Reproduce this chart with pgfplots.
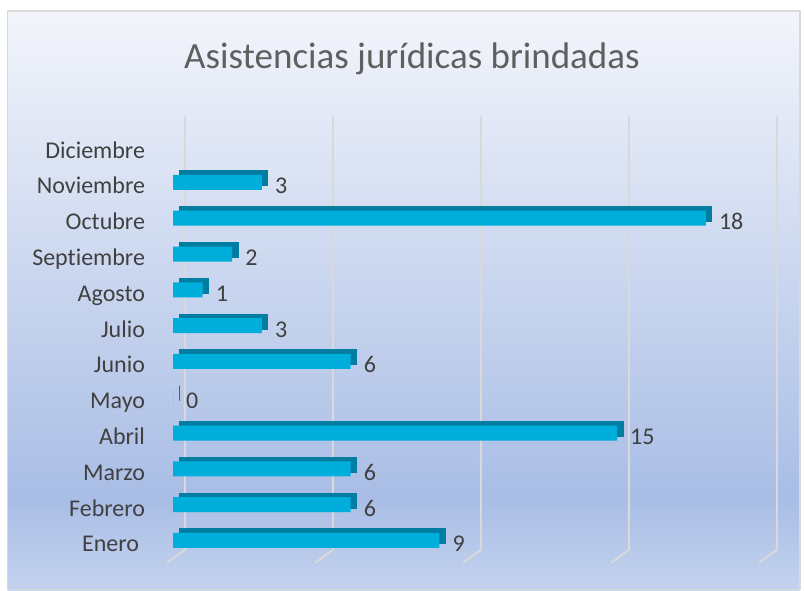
\documentclass[border=0pt]{standalone}
\usepackage{pgfplots}
\pgfplotsset{compat=1.18}
\usepackage{fontspec}
\setmainfont{Carlito}[Ligatures=NoCommon]
\definecolor{barfront}{RGB}{0,174,219}
\definecolor{bardark}{RGB}{0,125,160}
\definecolor{gridc}{RGB}{217,217,217}
\definecolor{txt}{RGB}{64,64,64}
\definecolor{ttl}{RGB}{95,95,95}
\definecolor{bgtop}{RGB}{243,245,251}
\definecolor{bgmid}{RGB}{169,189,229}
\definecolor{bgbot}{RGB}{195,210,238}
\definecolor{framec}{RGB}{217,217,217}
\pgfdeclareverticalshading{bgshade}{100bp}{color(0bp)=(bgbot); color(25bp)=(bgbot); color(33bp)=(bgmid); color(75bp)=(bgtop); color(100bp)=(bgtop)}
\begin{document}
\begin{tikzpicture}
\fill[white] (0,0) rectangle (804pt,590pt);
\shade[shading=bgshade] (7.5pt,0pt) rectangle (800pt,579pt);
\draw[framec, line width=1.5pt] (7.5pt,0.75pt) rectangle (800pt,579pt);
\node[font=\fontsize{37}{44}\selectfont, text=ttl, anchor=base, inner sep=0pt] at (412pt,521pt) {Asistencias jurídicas brindadas};
\begin{axis}[
  at={(161.2pt,19pt)}, anchor=south west,
  scale only axis, width=621.6pt, height=454.7pt,
  xmin=-0.4, xmax=20.6, ymin=-0.7, ymax=12,
  axis line style={draw=none},
  xtick=\empty,
  ytick={0,1,2,3,4,5,6,7,8,9,10,11},
  yticklabels={Enero\kern6pt,Febrero,Marzo,Abril,Mayo,Junio,Julio,Agosto,Septiembre,Octubre,Noviembre,Diciembre},
  major tick length=0pt,
  yticklabel style={font=\fontsize{24}{28}\selectfont, text=txt, anchor=east, inner sep=0pt, text height=17pt, text depth=5pt, xshift=-16pt},
  xbar, bar width=15pt, clip=false,
]
\draw[gridc, line width=2pt] (axis cs:0.4,12) -- (axis cs:0.4,-0.11) -- (axis cs:-0.2,-0.47);
\draw[gridc, line width=2pt] (axis cs:5.4,12) -- (axis cs:5.4,-0.11) -- (axis cs:4.8,-0.47);
\draw[gridc, line width=2pt] (axis cs:10.4,12) -- (axis cs:10.4,-0.11) -- (axis cs:9.8,-0.47);
\draw[gridc, line width=2pt] (axis cs:15.4,12) -- (axis cs:15.4,-0.11) -- (axis cs:14.8,-0.47);
\draw[gridc, line width=2pt] (axis cs:20.4,12) -- (axis cs:20.4,-0.11) -- (axis cs:19.8,-0.47);
\addplot[fill=bardark, draw=bardark, line width=1pt, bar shift=9.5pt, xshift=6pt] coordinates {(9,0) (6,1) (6,2) (15,3) (0,4) (6,5) (3,6) (1,7) (2,8) (18,9) (3,10)};
\addplot[fill=barfront, draw=none, bar shift=5.5pt] coordinates {(9,0) (6,1) (6,2) (15,3) (0,4) (6,5) (3,6) (1,7) (2,8) (18,9) (3,10)};
\addplot[draw=none, fill=none, bar shift=0pt, point meta=x,
  nodes near coords={\pgfmathprintnumber[assume math mode=true]{\pgfplotspointmeta}},
  nodes near coords style={font=\fontsize{24}{28}\selectfont, text=txt, anchor=west, inner sep=0pt, text height=17pt, text depth=5pt, xshift=13pt}] coordinates {(9,0) (6,1) (6,2) (15,3) (0,4) (6,5) (3,6) (1,7) (2,8) (18,9) (3,10)};
\end{axis}
\pgfresetboundingbox
\useasboundingbox (0,0) rectangle (804pt,590pt);
\end{tikzpicture}
\end{document}
